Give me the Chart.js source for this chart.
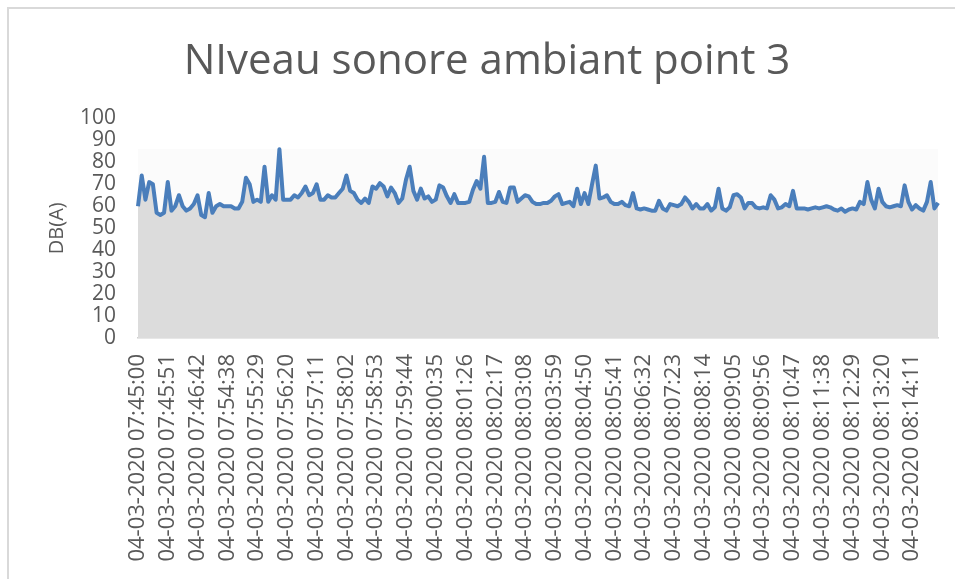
<!DOCTYPE html>
<html>
<head>
<meta charset="utf-8">
<script src="https://cdn.jsdelivr.net/npm/chart.js@4"></script>
<style>
    html, body { margin: 0; padding: 0; background: #ffffff; }
    .frame {
        position: absolute; left: 7px; top: 7px; width: 1000px; height: 700px;
        border-left: 2px solid #d9d9d9; border-top: 2px solid #d9d9d9;
    }
    .chart-wrapper { position: absolute; left: 0; top: 0; width: 955px; height: 579px; }
</style>
</head>
<body>
<div class="frame"></div>
<div class="chart-wrapper">
    <canvas id="noiseChart"></canvas>
</div>
<script>
// One row per label interval (8 readings between two shown time labels)
const dbValues = [
    60, 74, 63, 71, 70, 57, 56, 57,
    71, 58, 60, 65, 60, 58, 59, 61,
    65, 56, 55, 66, 57, 60, 61, 60,
    60, 60, 59, 59, 62, 73, 70, 62,
    63, 62, 78, 62, 65, 63, 86, 63,
    63, 63, 65, 64, 66, 69, 65, 66,
    70, 63, 63, 65, 64, 64, 66, 68,
    74, 67, 66, 63, 61.5, 63.5, 61.5, 69,
    68, 70.5, 69, 64.5, 68.5, 66, 61.5, 63.5,
    72, 78, 67, 63, 68, 63.5, 64.5, 62,
    63, 69.5, 68.5, 64.5, 61.5, 65.5, 61.5, 61.5,
    61.5, 62, 67.5, 71.5, 68, 82.5, 61.5, 61.5,
    62, 66.5, 62, 61.5, 68.5, 68.5, 62, 63.5,
    65, 64.5, 62, 61, 61, 61.5, 61.5, 62.5,
    64.5, 65.5, 61, 61.5, 62, 60, 68, 61,
    66, 61, 70, 78.5, 63.5, 64, 65, 62,
    61, 61, 62, 60.5, 60, 66, 59, 58.5,
    59, 58.5, 58, 58, 62.5, 59, 58, 61,
    60.5, 60, 61, 64, 62, 59, 61, 59,
    59, 61, 58, 59.5, 68, 59, 58, 59.5,
    65, 65.5, 64, 59, 61.5, 61.5, 59.5, 59,
    59.5, 59, 65, 63, 59, 59.5, 61, 60,
    67, 59, 59, 59, 58.5, 59, 59.5, 59,
    59.5, 60, 59.5, 58.5, 58, 59, 57.5, 58.5,
    59, 58.5, 62, 61, 71, 63, 59, 68,
    62, 60, 59.5, 60, 60.5, 60, 69.5, 62,
    58.5, 60.5, 59, 58, 62, 71, 59, 61.5
];

const tickLabels = [
    '04-03-2020 07:45:00', '04-03-2020 07:45:51', '04-03-2020 07:46:42',
    '04-03-2020 07:54:38', '04-03-2020 07:55:29', '04-03-2020 07:56:20',
    '04-03-2020 07:57:11', '04-03-2020 07:58:02', '04-03-2020 07:58:53',
    '04-03-2020 07:59:44', '04-03-2020 08:00:35', '04-03-2020 08:01:26',
    '04-03-2020 08:02:17', '04-03-2020 08:03:08', '04-03-2020 08:03:59',
    '04-03-2020 08:04:50', '04-03-2020 08:05:41', '04-03-2020 08:06:32',
    '04-03-2020 08:07:23', '04-03-2020 08:08:14', '04-03-2020 08:09:05',
    '04-03-2020 08:09:56', '04-03-2020 08:10:47', '04-03-2020 08:11:38',
    '04-03-2020 08:12:29', '04-03-2020 08:13:20', '04-03-2020 08:14:11'
];
const pointsPerLabel = 8;

const chartTitle = 'NIveau sonore ambiant point 3';
const yAxisTitle = 'DB(A)';

const pointIndex = dbValues.map((_, i) => i);
const textColor = '#595959';
const fontFamily = "'Open Sans', sans-serif";

// light backdrop behind the series, from the highest reading down to 0
const backdropPlugin = {
    id: 'backdrop',
    beforeDatasetsDraw(chart) {
        const { ctx, chartArea, scales } = chart;
        const top = scales.y.getPixelForValue(Math.max(...dbValues));
        ctx.save();
        ctx.fillStyle = '#fbfbfb';
        ctx.fillRect(chartArea.left, top, chartArea.right - chartArea.left, chartArea.bottom - top);
        ctx.restore();
    }
};

const ctx = document.getElementById('noiseChart').getContext('2d');
new Chart(ctx, {
    type: 'line',
    data: {
        labels: pointIndex,
        datasets: [{
            label: yAxisTitle,
            data: dbValues,
            borderColor: '#4a7ebb',
            borderWidth: 4,
            borderJoinStyle: 'round',
            backgroundColor: '#dcdcdc',
            fill: 'origin',
            pointRadius: 0,
            tension: 0
        }]
    },
    options: {
        responsive: true,
        maintainAspectRatio: false,
        animation: false,
        layout: { padding: { left: 35, right: 16, top: 0, bottom: 0 } },
        plugins: {
            legend: { display: false },
            tooltip: { enabled: false },
            title: {
                display: true,
                text: chartTitle,
                color: textColor,
                font: { family: fontFamily, size: 42, weight: 'normal' },
                padding: { top: 37, bottom: 31 }
            }
        },
        scales: {
            x: {
                grid: { display: false, drawTicks: false },
                border: { display: true, color: '#d0d0d0', width: 1.5 },
                afterFit: (scale) => { scale.height = 241; },
                ticks: {
                    autoSkip: false,
                    minRotation: 90,
                    maxRotation: 90,
                    padding: 16,
                    color: textColor,
                    font: { family: fontFamily, size: 22 },
                    callback: (val, index) => index % pointsPerLabel === 0 ? tickLabels[index / pointsPerLabel] : null
                }
            },
            y: {
                min: 0,
                max: 100,
                grid: { display: false, drawTicks: false },
                border: { display: false },
                afterFit: (scale) => { scale.width = 103; },
                ticks: {
                    autoSkip: false,
                    stepSize: 10,
                    padding: 22,
                    color: textColor,
                    font: { family: fontFamily, size: 21 }
                },
                title: {
                    display: true,
                    text: yAxisTitle,
                    color: textColor,
                    font: { family: fontFamily, size: 20 },
                    padding: { top: 10, bottom: 0 }
                }
            }
        }
    },
    plugins: [backdropPlugin]
});
</script>
</body>
</html>
